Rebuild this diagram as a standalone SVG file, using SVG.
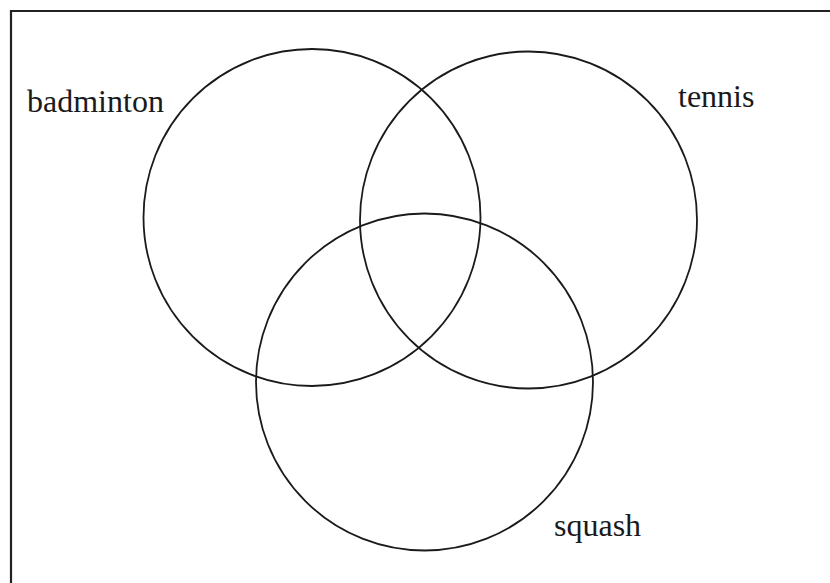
<svg xmlns="http://www.w3.org/2000/svg" width="830" height="583" viewBox="0 0 830 583">
<style>
.c{fill:none;stroke:#1a1a1a;stroke-width:1.8}
.t{font-family:"Liberation Serif","Times New Roman",serif;font-size:32px;fill:#1a1a1a}
</style>
<rect width="830" height="583" fill="#fff"/>
<g id="frame"><path d="M11 583 V11 H830" fill="none" stroke="#222" stroke-width="2.2"/></g>
<g id="badminton"><circle class="c" cx="312" cy="217.5" r="168.5"/><text class="t" x="27" y="112">badminton</text></g>
<g id="tennis"><circle class="c" cx="528.5" cy="220" r="168.5"/><text class="t" x="678" y="107">tennis</text></g>
<g id="squash"><circle class="c" cx="424.5" cy="382" r="168.5"/><text class="t" x="554" y="536">squash</text></g>
</svg>
